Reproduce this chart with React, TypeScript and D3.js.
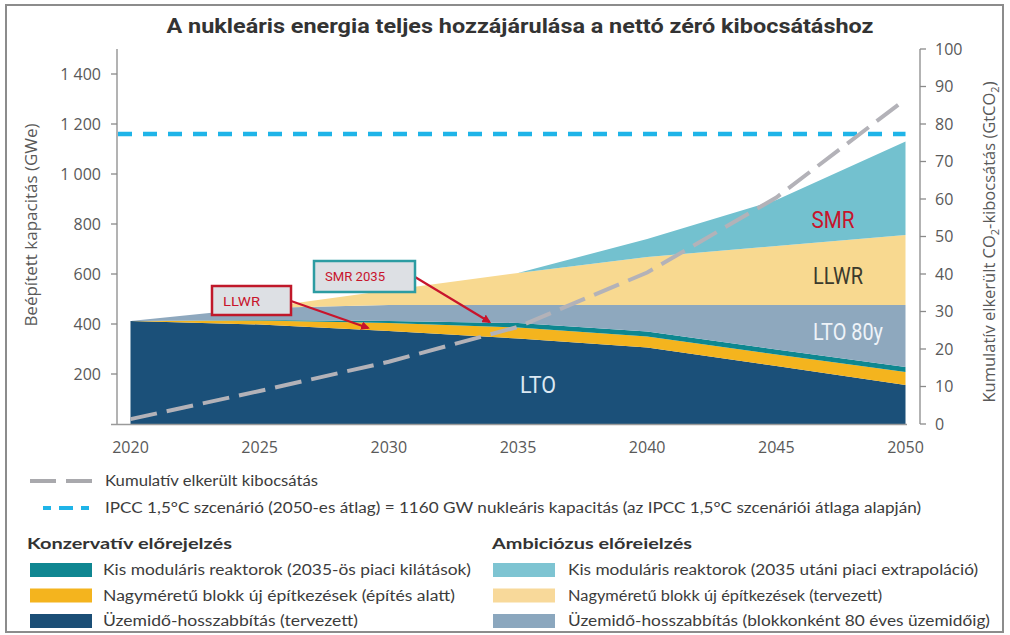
import React from 'react';
import * as d3 from 'd3';

// ---------- data ----------
const years = [2020, 2025, 2030, 2035, 2040, 2045, 2050];
// stacked layers, GWe (bottom to top)
const ltoConservative = [412, 398, 372, 342, 306, 232, 156];
const newBuildConservative = [0, 16, 32, 44, 44, 46, 52];
const smrConservative = [0, 2, 8, 18, 20, 20, 20];
const lto80Ambitious = [0, 48, 64, 72, 106, 178, 248];
const llwrAmbitious = [0, 0, 59, 128, 192, 236, 280];
const smrAmbitious = [0, 0, 0, 0, 72, 184, 374];
// cumulative avoided emissions, GtCO2 (right axis)
const avoidedEmissions = [1.3, 8.8, 16.6, 25.9, 40.4, 60.4, 86.6];
const ipccTarget = 1160;

const leftTicks = [200, 400, 600, 800, 1000, 1200, 1400];
const rightTicks = [0, 10, 20, 30, 40, 50, 60, 70, 80, 90, 100];

const title = 'A nukleáris energia teljes hozzájárulása a nettó zéró kibocsátáshoz';
const leftAxisTitle = 'Beépített kapacitás (GWe)';
const lineLegend = [
  'Kumulatív elkerült kibocsátás',
  'IPCC 1,5°C szcenárió (2050-es átlag) = 1160 GW nukleáris kapacitás (az IPCC 1,5°C szcenáriói átlaga alapján)',
];
const groupHeaders = ['Konzervatív előrejelzés', 'Ambiciózus előreielzés'];
const conservativeLabels = [
  'Kis moduláris reaktorok (2035-ös piaci kilátások)',
  'Nagyméretű blokk új építkezések (építés alatt)',
  'Üzemidő-hosszabbítás (tervezett)',
];
const ambitiousLabels = [
  'Kis moduláris reaktorok (2035 utáni piaci extrapoláció)',
  'Nagyméretű blokk új építkezések (tervezett)',
  'Üzemidő-hosszabbítás (blokkonként 80 éves üzemidőig)',
];

// ---------- styles ----------
const keys = ['lto', 'newBuild', 'smrCons', 'lto80', 'llwrAmb', 'smrAmb'];
const colors: Record<string, string> = {
  lto: '#1b5079',
  newBuild: '#f4b41e',
  smrCons: '#0e8790',
  lto80: '#8ea8be',
  llwrAmb: '#f8d990',
  smrAmb: '#73c1cf',
};
const legendColorsLeft = ['#0f8691', '#f4b41e', '#1b4e76'];
const legendColorsRight = ['#7ec4d2', '#f8d99a', '#8ba7be'];
const legendWidthsLine = [213, 816];
const legendWidthsLeft = [368, 352, 255];
const legendWidthsRight = [410, 314, 422];
const headerWidths = [205, 200];

const fmt = (v: number) =>
  v >= 1000 ? `${Math.floor(v / 1000)} ${String(v % 1000).padStart(3, '0')}` : String(v);

export default function App() {
  const W = 1010;
  const H = 635;
  const x = d3.scaleLinear().domain([2020, 2050]).range([130.5, 905.5]);
  const yL = d3.scaleLinear().domain([0, 1500]).range([424, 49]);
  const yR = d3.scaleLinear().domain([0, 100]).range([424, 49]);

  const table = years.map((year, i) => ({
    year,
    lto: ltoConservative[i],
    newBuild: newBuildConservative[i],
    smrCons: smrConservative[i],
    lto80: lto80Ambitious[i],
    llwrAmb: llwrAmbitious[i],
    smrAmb: smrAmbitious[i],
  }));
  const stacked = d3.stack<any>().keys(keys)(table);
  const area = d3
    .area<any>()
    .x((d) => x(d.data.year))
    .y0((d) => yL(d[0]))
    .y1((d) => yL(d[1]));
  const emissionLine = d3
    .line<number>()
    .x((_, i) => x(years[i]))
    .y((d) => yR(d));

  const font = "'Open Sans', 'DejaVu Sans', sans-serif";
  const legendFont = "Lato, 'Open Sans', sans-serif";
  const condensed = "Roboto, 'Liberation Sans', sans-serif";
  const red = '#c8142c';

  // annotation anchors (data coordinates)
  const llwrTip = [x(2029.2), yL(384)];
  const smrTip = [x(2033.9), yL(408)];

  return (
    <svg
      width={W}
      height={H}
      style={{ position: 'absolute', left: 0, top: 0, display: 'block', background: '#fff' }}
    >
      <defs>
        <marker id="ah" viewBox="0 0 10 10" refX="8" refY="5" markerWidth="4" markerHeight="4" orient="auto">
          <path d="M0,0 L10,5 L0,10 z" fill={red} />
        </marker>
      </defs>
      <rect x={6} y={5} width={997} height={627} fill="#fff" stroke="#8c8c8c" strokeWidth={2} />

      {/* title */}
      <text
        x={520}
        y={33}
        textAnchor="middle"
        fontFamily={condensed}
        fontWeight={700}
        fontSize={19.5}
        fill="#333"
        textLength={707}
        lengthAdjust="spacingAndGlyphs"
      >
        {title}
      </text>

      {/* areas */}
      {stacked.map((s) => (
        <path key={s.key} d={area(s as any) || ''} fill={colors[s.key]} />
      ))}

      {/* IPCC line */}
      <line
        x1={118}
        x2={x(2050)}
        y1={yL(ipccTarget)}
        y2={yL(ipccTarget)}
        stroke="#1fb4e8"
        strokeWidth={4.5}
        strokeDasharray="14 11"
      />

      {/* emissions line */}
      <path
        d={emissionLine(avoidedEmissions) || ''}
        fill="none"
        stroke="#b3b2b8"
        strokeWidth={4}
        strokeDasharray="27 10"
      />

      {/* in-chart labels */}
      <text x={538} y={393} textAnchor="middle" fontFamily={condensed} fontSize={23} fill="#dce8f2" textLength={36} lengthAdjust="spacingAndGlyphs">LTO</text>
      <text x={848} y={340} textAnchor="middle" fontFamily={condensed} fontSize={23} fill="#eef3f8" textLength={70} lengthAdjust="spacingAndGlyphs">LTO 80y</text>
      <text x={838} y={284} textAnchor="middle" fontFamily={condensed} fontSize={23} fill="#3b3a2c" textLength={50} lengthAdjust="spacingAndGlyphs">LLWR</text>
      <text x={833} y={228} textAnchor="middle" fontFamily={condensed} fontSize={23} fill={red} textLength={43} lengthAdjust="spacingAndGlyphs">SMR</text>

      {/* annotations */}
      <line x1={291} y1={301} x2={llwrTip[0]} y2={llwrTip[1]} stroke={red} strokeWidth={2.2} markerEnd="url(#ah)" />
      <line x1={415} y1={277} x2={smrTip[0]} y2={smrTip[1]} stroke={red} strokeWidth={2.2} markerEnd="url(#ah)" />
      <rect x={212} y={286} width={79} height={29} fill="#dde0e4" stroke="#c0182a" strokeWidth={2.5} />
      <text x={223} y={306} fontFamily={condensed} fontSize={13} fill={red} textLength={37} lengthAdjust="spacingAndGlyphs">LLWR</text>
      <rect x={314} y={261} width={101} height={31} fill="#dde0e4" stroke="#2c9ca2" strokeWidth={2.5} />
      <text x={325} y={281} fontFamily={condensed} fontSize={13} fill={red} textLength={60} lengthAdjust="spacingAndGlyphs">SMR 2035</text>

      {/* left axis */}
      <line x1={117} x2={117} y1={49} y2={424} stroke="#8a8a8a" strokeWidth={1.3} />
      {leftTicks.map((t) => (
        <g key={t}>
          <line x1={111} x2={117} y1={yL(t)} y2={yL(t)} stroke="#8a8a8a" strokeWidth={1.3} />
          <text x={101} y={yL(t) + 5.5} textAnchor="end" fontFamily={font} fontSize={16} fill="#595959">
            {fmt(t)}
          </text>
        </g>
      ))}
      <text
        transform="translate(37,225) rotate(-90)"
        textAnchor="middle"
        fontFamily={font}
        fontSize={17}
        fill="#595959"
      >
        {leftAxisTitle}
      </text>

      {/* bottom axis */}
      <line x1={111} x2={907} y1={424.5} y2={424.5} stroke="#9a9a9a" strokeWidth={1.5} />
      {years.map((yr) => (
        <text key={yr} x={x(yr)} y={453} textAnchor="middle" fontFamily={font} fontSize={16} fill="#595959">
          {yr}
        </text>
      ))}

      {/* right axis */}
      <line x1={920} x2={920} y1={49} y2={424} stroke="#8a8a8a" strokeWidth={1.3} />
      {rightTicks.map((t) => (
        <g key={t}>
          <line x1={920} x2={926} y1={yR(t)} y2={yR(t)} stroke="#8a8a8a" strokeWidth={1.3} />
          <text x={935} y={yR(t) + 5.5} fontFamily={font} fontSize={16} fill="#595959">
            {t}
          </text>
        </g>
      ))}
      <text
        transform="translate(995,242) rotate(-90)"
        textAnchor="middle"
        fontFamily={font}
        fontSize={16.5}
        fill="#595959"
      >
        Kumulatív elkerült CO<tspan fontSize={11} dy={4}>2</tspan>
        <tspan dy={-4}>-kibocsátás (GtCO</tspan>
        <tspan fontSize={11} dy={4}>2</tspan>
        <tspan dy={-4}>)</tspan>
      </text>

      {/* legend: lines */}
      <line x1={30} x2={93} y1={481} y2={481} stroke="#a9a9ad" strokeWidth={4} strokeDasharray="26 10" />
      <line x1={43} x2={93} y1={508} y2={508} stroke="#1fb4e8" strokeWidth={4} strokeDasharray="8 8 14 8" />
      {lineLegend.map((t, i) => (
        <text
          key={t}
          x={105}
          y={486 + i * 27}
          fontFamily={legendFont}
          fontSize={14.5}
          fill="#3c3c3c"
          textLength={legendWidthsLine[i]}
          lengthAdjust="spacingAndGlyphs"
        >
          {t}
        </text>
      ))}

      {/* legend: groups */}
      {groupHeaders.map((h, i) => (
        <text
          key={h}
          x={i === 0 ? 27 : 492}
          y={549}
          fontFamily={legendFont}
          fontWeight={700}
          fontSize={16}
          fill="#333"
          textLength={headerWidths[i]}
          lengthAdjust="spacingAndGlyphs"
        >
          {h}
        </text>
      ))}
      {conservativeLabels.map((t, i) => (
        <g key={t}>
          <rect x={30} y={563 + i * 25.5} width={62} height={14} fill={legendColorsLeft[i]} />
          <text
            x={103}
            y={575 + i * 25.5}
            fontFamily={legendFont}
            fontSize={14.5}
            fill="#3c3c3c"
            textLength={legendWidthsLeft[i]}
            lengthAdjust="spacingAndGlyphs"
          >
            {t}
          </text>
        </g>
      ))}
      {ambitiousLabels.map((t, i) => (
        <g key={t}>
          <rect x={493} y={563 + i * 25.5} width={62} height={14} fill={legendColorsRight[i]} />
          <text
            x={568}
            y={575 + i * 25.5}
            fontFamily={legendFont}
            fontSize={14.5}
            fill="#3c3c3c"
            textLength={legendWidthsRight[i]}
            lengthAdjust="spacingAndGlyphs"
          >
            {t}
          </text>
        </g>
      ))}
    </svg>
  );
}
